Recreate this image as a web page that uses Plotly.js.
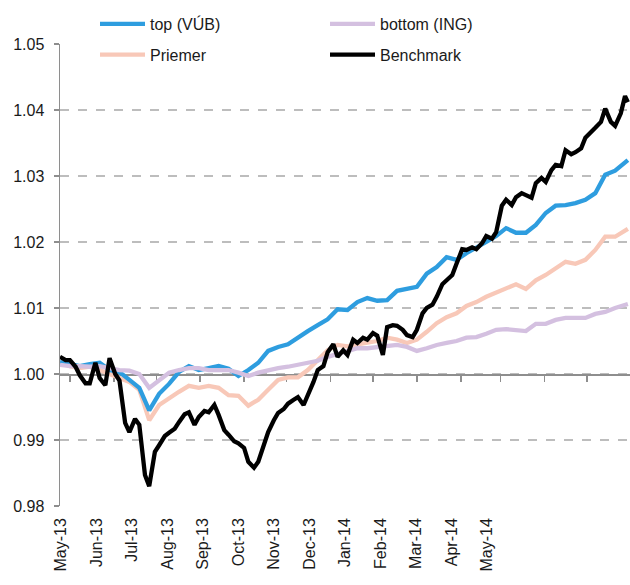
<!DOCTYPE html>
<html>
<head>
<meta charset="utf-8">
<script src="https://cdn.plot.ly/plotly-3.0.1.min.js"></script>
<style>html,body{margin:0;padding:0;background:#fff;}#chart{width:630px;height:585px;}</style>
</head>
<body>
<div id="chart"></div>
<script>
// Month labels shown under the chart
const monthLabels = ["May-13","Jun-13","Jul-13","Aug-13","Sep-13","Oct-13","Nov-13","Dec-13","Jan-14","Feb-14","Mar-14","Apr-14","May-14"];

// Weekly dates for the three funds
const weekDates = ["2013-05-01","2013-05-08","2013-05-15","2013-05-22","2013-05-29","2013-06-05","2013-06-12","2013-06-19","2013-06-26","2013-07-03","2013-07-10","2013-07-17","2013-07-24","2013-07-31","2013-08-07","2013-08-14","2013-08-21","2013-08-28","2013-09-04","2013-09-11","2013-09-18","2013-09-25","2013-10-02","2013-10-09","2013-10-16","2013-10-23","2013-10-30","2013-11-06","2013-11-13","2013-11-20","2013-11-27","2013-12-04","2013-12-11","2013-12-18","2013-12-25","2014-01-01","2014-01-08","2014-01-15","2014-01-22","2014-01-29","2014-02-05","2014-02-12","2014-02-19","2014-02-26","2014-03-05","2014-03-12","2014-03-19","2014-03-26","2014-04-02","2014-04-09","2014-04-16","2014-04-23","2014-04-30","2014-05-07","2014-05-14","2014-05-21","2014-05-28","2014-06-04","2014-06-06"];

const topVals = [1.0018,1.0015,1.0012,1.0015,1.0017,1.0006,1.0003,0.9991,0.9979,0.9945,0.9970,0.9985,1.0003,1.0012,1.0006,1.0009,1.0012,1.0008,0.9997,1.0006,1.0017,1.0035,1.0041,1.0045,1.0056,1.0065,1.0074,1.0083,1.0098,1.0097,1.0109,1.0115,1.0111,1.0112,1.0126,1.0129,1.0132,1.0152,1.0162,1.0177,1.0173,1.0183,1.0191,1.0200,1.0209,1.0221,1.0214,1.0214,1.0226,1.0244,1.0255,1.0256,1.0259,1.0264,1.0274,1.0302,1.0308,1.0320,1.0324];

const bottomVals = [1.0014,1.0012,1.0012,1.0011,1.0012,1.0009,1.0006,1.0005,1.0000,0.9979,0.9991,1.0002,1.0006,1.0009,1.0009,1.0006,1.0006,1.0006,1.0002,0.9997,1.0002,1.0006,1.0009,1.0011,1.0014,1.0017,1.0020,1.0026,1.0030,1.0035,1.0039,1.0039,1.0041,1.0042,1.0044,1.0041,1.0035,1.0039,1.0044,1.0047,1.0050,1.0055,1.0056,1.0061,1.0067,1.0068,1.0067,1.0065,1.0076,1.0076,1.0082,1.0085,1.0085,1.0085,1.0091,1.0094,1.0100,1.0105,1.0106];

const avgVals = [1.0018,1.0012,1.0009,1.0011,1.0006,1.0000,0.9994,0.9988,0.9976,0.9930,0.9953,0.9964,0.9973,0.9982,0.9979,0.9982,0.9979,0.9968,0.9967,0.9952,0.9961,0.9976,0.9991,0.9995,0.9995,1.0006,1.0021,1.0036,1.0044,1.0042,1.0045,1.0048,1.0050,1.0055,1.0052,1.0047,1.0052,1.0064,1.0077,1.0086,1.0092,1.0103,1.0109,1.0117,1.0123,1.0129,1.0136,1.0129,1.0142,1.0150,1.0161,1.0170,1.0167,1.0173,1.0188,1.0208,1.0208,1.0217,1.0220];

// Twice-weekly dates for the benchmark
const benchDates = ["2013-05-01","2013-05-05","2013-05-08","2013-05-12","2013-05-15","2013-05-19","2013-05-22","2013-05-26","2013-05-29","2013-06-02","2013-06-05","2013-06-09","2013-06-12","2013-06-16","2013-06-19","2013-06-23","2013-06-26","2013-06-30","2013-07-03","2013-07-07","2013-07-10","2013-07-14","2013-07-17","2013-07-21","2013-07-24","2013-07-28","2013-07-31","2013-08-04","2013-08-07","2013-08-11","2013-08-14","2013-08-18","2013-08-21","2013-08-25","2013-08-28","2013-09-01","2013-09-04","2013-09-08","2013-09-11","2013-09-15","2013-09-18","2013-09-22","2013-09-25","2013-09-29","2013-10-02","2013-10-06","2013-10-09","2013-10-13","2013-10-16","2013-10-20","2013-10-23","2013-10-27","2013-10-30","2013-11-03","2013-11-06","2013-11-10","2013-11-13","2013-11-17","2013-11-20","2013-11-24","2013-11-27","2013-12-01","2013-12-04","2013-12-08","2013-12-11","2013-12-15","2013-12-18","2013-12-22","2013-12-25","2013-12-29","2014-01-01","2014-01-05","2014-01-08","2014-01-12","2014-01-15","2014-01-19","2014-01-22","2014-01-26","2014-01-29","2014-02-02","2014-02-05","2014-02-09","2014-02-12","2014-02-16","2014-02-19","2014-02-23","2014-02-26","2014-03-02","2014-03-05","2014-03-09","2014-03-12","2014-03-16","2014-03-19","2014-03-23","2014-03-26","2014-03-30","2014-04-02","2014-04-06","2014-04-09","2014-04-13","2014-04-16","2014-04-20","2014-04-23","2014-04-27","2014-04-30","2014-05-04","2014-05-07","2014-05-11","2014-05-14","2014-05-18","2014-05-21","2014-05-25","2014-05-28","2014-06-01","2014-06-04","2014-06-06"];

const benchVals = [1.0026,1.0021,1.0021,1.0011,0.9998,0.9986,0.9986,1.0017,0.9994,0.9983,1.0024,1.0000,0.9990,0.9926,0.9912,0.9932,0.9923,0.9847,0.9830,0.9882,0.9892,0.9906,0.9911,0.9917,0.9927,0.9939,0.9942,0.9923,0.9935,0.9944,0.9942,0.9953,0.9938,0.9915,0.9908,0.9898,0.9895,0.9888,0.9867,0.9858,0.9867,0.9894,0.9912,0.9930,0.9941,0.9947,0.9955,0.9961,0.9965,0.9953,0.9967,0.9988,1.0006,1.0012,1.0033,1.0045,1.0026,1.0036,1.0029,1.0052,1.0047,1.0055,1.0052,1.0062,1.0058,1.0029,1.0071,1.0074,1.0073,1.0067,1.0059,1.0056,1.0067,1.0092,1.0100,1.0105,1.0117,1.0136,1.0142,1.0150,1.0167,1.0189,1.0188,1.0192,1.0189,1.0198,1.0209,1.0205,1.0215,1.0255,1.0264,1.0256,1.0268,1.0274,1.0271,1.0267,1.0289,1.0297,1.0291,1.0309,1.0317,1.0315,1.0339,1.0333,1.0336,1.0342,1.0358,1.0368,1.0373,1.0382,1.0402,1.0382,1.0376,1.0395,1.0421,1.0412];

const seriesNames = ["top (VÚB)","bottom (ING)","Priemer","Benchmark"];
const seriesColors = ["#2e9ddf","#d4c0e0","#f8c8b8","#000000"];

const xRange = ["2013-05-01","2014-06-07 12:00"];
const t0 = Date.UTC(2013,4,1);
const labelVals = monthLabels.map((m,i)=>{
  const ms = t0 + (0.7 + 25.07*i)*86400000;
  return new Date(ms).toISOString().replace('T',' ').slice(0,19);
});

const font = "Liberation Sans, Arial, sans-serif";
const lw = 4.3;
// drawing order: Priemer, top, bottom, Benchmark (legend order set by legendrank)
const traces = [
  {x: weekDates, y: avgVals, name: seriesNames[2], mode:'lines', line:{color:seriesColors[2], width:lw}, legend:'legend', legendgroup:'c', legendrank:2},
  {x: weekDates, y: topVals, name: seriesNames[0], mode:'lines', line:{color:seriesColors[0], width:lw}, legend:'legend', legendgroup:'a', legendrank:1},
  {x: weekDates, y: bottomVals, name: seriesNames[1], mode:'lines', line:{color:seriesColors[1], width:lw}, legend:'legend2', legendgroup:'b', legendrank:1},
  {x: benchDates, y: benchVals, name: seriesNames[3], mode:'lines', line:{color:seriesColors[3], width:lw}, legend:'legend2', legendgroup:'d', legendrank:2, xaxis:'x2'}
];

const axisGray = '#8e8e8e';
const layout = {
  width: 630, height: 585,
  margin: {l:60, r:0, t:44, b:79, autoexpand:false},
  paper_bgcolor:'#fff', plot_bgcolor:'#fff',
  font: {family: font, size: 16, color:'#1a1a1a'},
  showlegend: true,
  xaxis: {
    type:'date', range: xRange, anchor:'free', position: (1-0.98)/(1.05-0.98),
    showline:true, linecolor:axisGray, linewidth:1.5,
    ticks:'outside', ticklen:6, tickwidth:1.5, tickcolor:axisGray,
    dtick:'M1', tick0:'2013-05-08', showticklabels:false,
    showgrid:false, zeroline:false, layer:'below traces'
  },
  xaxis2: {
    type:'date', range: xRange, overlaying:'x', anchor:'y', side:'bottom',
    tickmode:'array', tickvals: labelVals, ticktext: monthLabels,
    tickangle:-90, ticks:'', showline:false, showgrid:false, zeroline:false,
    tickfont:{family:font, size:16, color:'#1a1a1a'}, ticklabelstandoff: 8
  },
  yaxis: {
    range:[0.98,1.05], dtick:0.01, tick0:0.98, tickformat:'.2f',
    showgrid:true, gridcolor:'#bdbdbd', griddash:'dash', gridwidth:1.2,
    showline:true, linecolor:axisGray, linewidth:1.5,
    ticks:'outside', ticklen:5, tickwidth:1.5, tickcolor:axisGray,
    zeroline:false, tickfont:{family:font, size:16, color:'#1a1a1a'}, ticklabelstandoff: 6
  },
  legend: {x:(95-60)/570, xanchor:'left', y:1-7/585, yref:'container', yanchor:'top', bgcolor:'rgba(0,0,0,0)', font:{family:font,size:16,color:'#1a1a1a'}, tracegroupgap:7, itemwidth:45},
  legend2: {x:(325-60)/570, xanchor:'left', y:1-7/585, yref:'container', yanchor:'top', bgcolor:'rgba(0,0,0,0)', font:{family:font,size:16,color:'#1a1a1a'}, tracegroupgap:7, itemwidth:45}
};

Plotly.newPlot('chart', traces, layout, {displayModeBar:false, staticPlot:true});
</script>
</body>
</html>
